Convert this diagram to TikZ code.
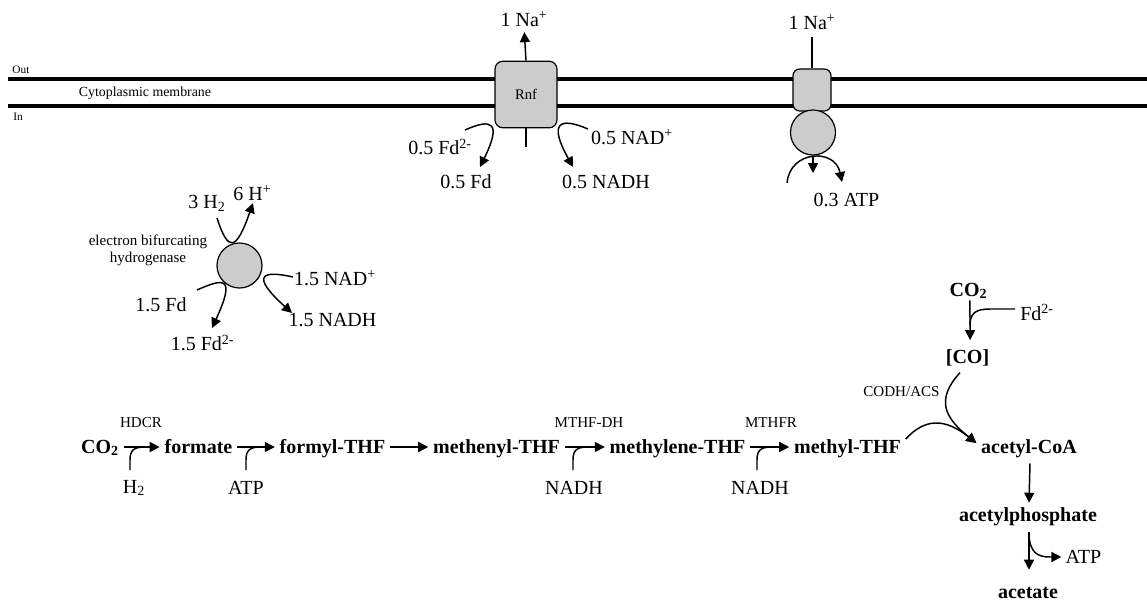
\documentclass[tikz,border=0pt]{standalone}
\usepackage{fontspec}
\setmainfont{Liberation Serif}
\usetikzlibrary{arrows.meta}
\definecolor{boxgray}{RGB}{204,204,204}
\tikzset{
 lbl/.style={font=\fontsize{15}{18}\selectfont, inner sep=0pt},
 met/.style={font=\bfseries\fontsize{15}{18}\selectfont, inner xsep=3.5pt, inner ysep=0pt, text height=9pt, text depth=0pt},
 enz/.style={font=\fontsize{11.3}{12.75}\selectfont, inner sep=0pt},
 small/.style={font=\fontsize{8.5}{10}\selectfont, inner sep=0pt},
 ln/.style={line width=1.1pt},
 arr/.style={ln, -{Triangle[length=7.5pt,width=7.5pt]}},
 membrane/.style={line width=2.6pt},
 protein/.style={draw, line width=0.9pt, fill=boxgray},
}
\begin{document}
\begin{tikzpicture}[x=0.75pt,y=-0.75pt]
\useasboundingbox (0,0) rectangle (1147,601);
% membrane
\draw[membrane] (8,79) -- (1147,79);
\draw[membrane] (8,106) -- (1147,106);
\node[small] (out) at (21,70) {Out};
\node[small] (in) at (18,117) {In};
\node[font=\fontsize{10.4}{12}\selectfont, inner sep=0pt] (cm) at (145,93) {Cytoplasmic membrane};
% Rnf
\node[protein, rounded corners=6pt, minimum width=46.5pt, minimum height=50pt, font=\fontsize{11}{13}\selectfont] (rnf) at (526,94.5) {Rnf};
\node[lbl] (na1) at (524,19) {1 Na\textsuperscript{+}};
\draw[arr, shorten >=4pt] (rnf.north) -- (na1.south);
\coordinate (stub) at (526,147);
\draw[ln] (rnf.south) -- (stub);
\node[lbl] (fd2a) at (440,147) {0.5 Fd\textsuperscript{2-}};
\node[lbl] (fda) at (466,182) {0.5 Fd};
\node[lbl] (nada) at (632,137) {0.5 NAD\textsuperscript{+}};
\node[lbl] (nadha) at (606,182) {0.5 NADH};
\coordinate (rl0) at (465,130); \coordinate (rl1) at (480,167);
\coordinate (rr0) at (588,129); \coordinate (rr1) at (573,167);
\draw[arr] (rl0) .. controls (492,118) and (502,122) .. (rl1);
\draw[arr] (rr0) .. controls (560,117) and (548,122) .. (rr1);
% ATP synthase
\node[protein, rounded corners=5pt, minimum width=28.5pt, minimum height=31.5pt] (atpo) at (812,90) {};
\node[protein, circle, minimum size=33.75pt, inner sep=0pt] (atpi) at (813,132.5) {};
\node[lbl] (na2) at (812,22) {1 Na\textsuperscript{+}};
\coordinate (na2in) at (812,37);
\draw[ln] (na2in) -- (atpo.north);
\coordinate (arc0) at (787,183); \coordinate (arc1) at (842,182);
\draw[arr] (arc0) .. controls (790,150) and (835,148) .. (arc1);
\coordinate (atpdown) at (813,173);
\draw[arr] (atpi.south) -- (atpdown);
\node[lbl] (atp1) at (846.5,200) {0.3 ATP};
% hydrogenase
\node[protein, circle, minimum size=33.75pt, inner sep=0pt] (hyd) at (239.5,265.5) {};
\node[enz, align=center] (hydlbl) at (148,250) {electron bifurcating\\hydrogenase};
\node[lbl] (h2a) at (207,203) {3 H\textsubscript{2}};
\node[lbl] (hp) at (252.5,193) {6 H\textsuperscript{+}};
\node[lbl] (nadb) at (335,278) {1.5 NAD\textsuperscript{+}};
\node[lbl] (nadhb) at (332.5,320) {1.5 NADH};
\node[lbl] (fdb) at (161,305) {1.5 Fd};
\node[lbl] (fd2b) at (202.5,343) {1.5 Fd\textsuperscript{2-}};
\coordinate (hh0) at (217,218); \coordinate (hh1) at (253,203);
\draw[arr] (hh0) .. controls (228,252) and (236,252) .. (hh1);
\coordinate (hn0) at (293,277); \coordinate (hn1) at (292,313);
\draw[arr] (hn0) .. controls (262,270) and (250,275) .. (hn1);
\coordinate (hf0) at (197,290); \coordinate (hf1) at (212,328);
\draw[arr] (hf0) .. controls (224,278) and (236,276) .. (hf1);
% pathway
\node[met] (co2a) at (100,447) {CO\textsubscript{2}};
\node[met] (formate) at (198.5,447) {formate};
\node[met] (formyl) at (332.5,447) {formyl-THF};
\node[met] (methenyl) at (496.5,447) {methenyl-THF};
\node[met] (methylene) at (677.5,447) {methylene-THF};
\node[met] (methyl) at (847.5,447) {methyl-THF};
\draw[arr] (co2a) -- (formate);
\draw[arr] (formate) -- (formyl);
\draw[arr] (formyl) -- (methenyl);
\draw[arr] (methenyl) -- (methylene);
\draw[arr] (methylene) -- (methyl);
\node[enz] (hdcr) at (141,423) {HDCR};
\node[enz] (mthfdh) at (589,423) {MTHF-DH};
\node[enz] (mthfr) at (771,423) {MTHFR};
\node[lbl] (h2c) at (134,488) {H\textsubscript{2}};
\node[lbl] (atpc) at (246,488) {ATP};
\node[lbl] (nadhc) at (574,488) {NADH};
\node[lbl] (nadhd) at (760,488) {NADH};
\coordinate (k1) at (130,470); \coordinate (k2) at (246,470);
\coordinate (k3) at (573,470); \coordinate (k4) at (757,470);
\draw[ln] (k1) -- (130,460) .. controls (130,450) and (134,447) .. (145,447);
\draw[ln] (k2) -- (246,460) .. controls (246,450) and (250,447) .. (261,447);
\draw[ln] (k3) -- (573,460) .. controls (573,450) and (577,447) .. (588,447);
\draw[ln] (k4) -- (757,460) .. controls (757,450) and (761,447) .. (772,447);
% right branch
\node[met] (co2b) at (968.5,290) {CO\textsubscript{2}};
\node[met] (co) at (967.5,357) {[CO]};
\node[lbl] (fd2c) at (1037,312) {Fd\textsuperscript{2-}};
\draw[arr] ([xshift=1pt,yshift=-3pt]co2b.south) -- ([xshift=2pt,yshift=8pt]co.north);
\coordinate (fk) at (1015,309);
\draw[ln] (fk) -- (990,309) .. controls (976,309) and (970,313) .. (970,325);
\node[enz] (codh) at (901.5,392) {CODH/ACS};
\node[met] (acoa) at (1029,447) {acetyl-CoA};
\draw[arr] ([xshift=-5.6pt,yshift=-7pt]co.south) .. controls (935,400) and (945,418) .. ([yshift=3pt]acoa.west);
\draw[arr] ([yshift=6pt]methyl.east) .. controls (925,418) and (945,418) .. ([yshift=3pt]acoa.west);
\node[met] (aphos) at (1028,515) {acetylphosphate};
\node[met] (acetate) at (1028,592) {acetate};
\draw[arr] ([xshift=0.75pt,yshift=-7.5pt]acoa.south) -- ([xshift=0.75pt,yshift=4.5pt]aphos.north);
\draw[arr] ([xshift=0.75pt,yshift=-8pt]aphos.south) -- ([xshift=0.75pt,yshift=12pt]acetate.north);
\node[lbl] (atpd) at (1083.5,557) {ATP};
\coordinate (ab) at (1029,535);
\draw[arr] (ab) .. controls (1030,553) and (1038,557) .. (1050,557) -- ([xshift=-3pt]atpd.west);
\end{tikzpicture}
\end{document}
